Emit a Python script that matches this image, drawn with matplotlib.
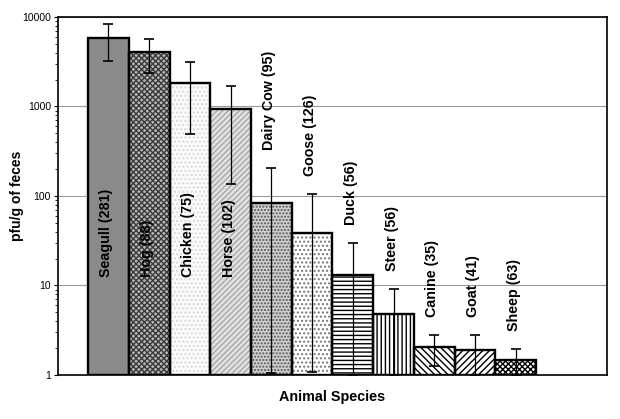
import numpy as np
import matplotlib
matplotlib.use("Agg")
from matplotlib import pyplot as plt

# data
species = ['Seagull (281)', 'Hog (88)', 'Chicken (75)', 'Horse (102)', 'Dairy Cow (95)',
           'Goose (126)', 'Duck (56)', 'Steer (56)', 'Canine (35)', 'Goat (41)', 'Sheep (63)']
means = [5850, 4100, 1830, 940, 84, 39, 13.1, 4.8, 2.06, 1.9, 1.47]
err_hi = [8300, 5700, 3150, 1700, 206, 105, 30, 9.1, 2.8, 2.8, 1.95]
err_lo = [3220, 2370, 490, 136, 1.05, 1.08, 1.0, 1.0, 1.26, 1.0, 1.0]

# fill styles: (face, hatch, hatch colour)
styles = [('#8a8a8a', '', '#8a8a8a'),
          ('#b8b8b8', 'xxxxxx', '#3a3a3a'),
          ('#fbfbfb', '....', '#d8d8d8'),
          ('#e2e2e2', '//////', '#a8a8a8'),
          ('#cfcfcf', '.....', '#555555'),
          ('#ffffff', '....', '#777777'),
          ('#ffffff', '----', '#000000'),
          ('#ffffff', '||||', '#000000'),
          ('#ffffff', '\\\\\\\\\\', '#000000'),
          ('#ffffff', '/////', '#000000'),
          ('#ffffff', 'xxxxxx', '#000000')]

plt.rcParams['font.family'] = ['Liberation Sans', 'DejaVu Sans']
plt.rcParams['hatch.linewidth'] = 1.0

fig = plt.figure(figsize=(6.2, 4.19), dpi=100)
ax = fig.add_axes([0.0935, 0.105, 0.8855, 0.8545])

x = np.arange(len(species))
heights = np.array(means) - 1  # bars start at the axis floor (1)
for i in range(len(species)):
	face, hatch, hc = styles[i]
	ax.bar(x[i], heights[i], width=1.0, bottom=1, color=face, hatch=hatch,
		edgecolor=hc, linewidth=0, zorder=2)
ax.bar(x, heights, width=1.0, bottom=1, fill=False, edgecolor='black', linewidth=1.7, zorder=3)

lo = np.array(means) - np.array(err_lo)
hi = np.array(err_hi) - np.array(means)
ax.errorbar(x, means, yerr=[lo, hi], fmt='none', ecolor='black', elinewidth=0.9,
	capsize=3.5, capthick=1.2, zorder=4)

# species labels: inside the tall bars, above the error bars otherwise
for i, name in enumerate(species):
	if means[i] > 500:
		ypos = 12.5
	else:
		ypos = err_hi[i] * 1.6
	ax.text(x[i] - 0.05, ypos, name, rotation=90, ha='center', va='bottom',
		fontsize=10.3, fontweight='bold', zorder=5)

ax.set_yscale('log')
ax.set_ylim(1, 10000)
ax.set_xlim(-1.24, 12.24)
ax.set_yticks([1, 10, 100, 1000, 10000])
ax.set_yticklabels(['1', '10', '100', '1000', '10000'])
ax.tick_params(axis='y', which='major', direction='out', length=3, labelsize=7.5, pad=2)
ax.tick_params(axis='y', which='minor', direction='out', length=2)
ax.set_xticks([])
ax.grid(axis='y', which='major', color='#999999', linewidth=0.8, zorder=0)
ax.set_axisbelow(True)
for sp in ax.spines.values():
	sp.set_linewidth(1.2)

ax.set_ylabel('pfu/g of feces', fontsize=10, fontweight='bold', labelpad=-1)
ax.set_xlabel('Animal Species', fontsize=10.4, fontweight='bold', labelpad=11)

plt.savefig('out.png', dpi=100)
